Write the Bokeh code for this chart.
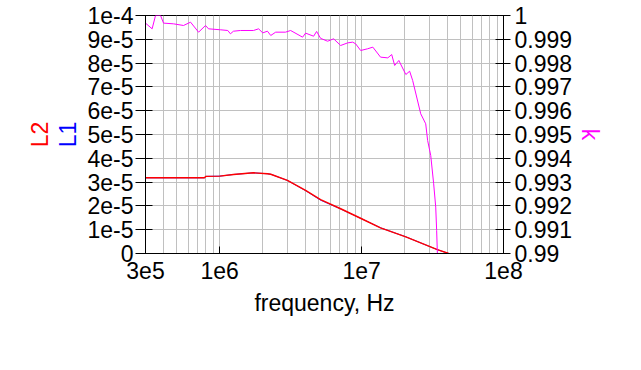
from bokeh.plotting import figure
from bokeh.models import (LinearAxis, Range1d, FixedTicker, CustomJSTickFormatter)
from bokeh.embed import file_html
from bokeh.resources import INLINE

# ---- data ----
freq_L = [3.0e5, 7.8e5, 8.0e5, 1.0e6, 1.25e6, 1.73e6, 2.17e6, 2.29e6, 3.0e6,
          4.03e6, 5.14e6, 7.12e6, 1.0e7, 1.36e7, 2.05e7, 3.42e7, 4.11e7]
L2 = [3.18e-5, 3.18e-5, 3.24e-5, 3.25e-5, 3.32e-5, 3.39e-5, 3.35e-5, 3.33e-5, 3.07e-5,
      2.65e-5, 2.26e-5, 1.88e-5, 1.46e-5, 1.08e-5, 0.70e-5, 0.16e-5, 0.0]
L1 = [3.18e-5, 3.18e-5, 3.24e-5, 3.25e-5, 3.32e-5, 3.39e-5, 3.35e-5, 3.33e-5, 3.07e-5,
      2.64e-5, 2.24e-5, 1.87e-5, 1.46e-5, 1.08e-5, 0.70e-5, 0.16e-5, 0.0]

freq_k = [3.0e5, 3.34e5, 3.53e5, 3.83e5, 4.02e5, 4.73e5, 5.56e5, 6.23e5, 7.10e5, 7.95e5,
          8.34e5, 1.01e6, 1.14e6, 1.19e6, 1.25e6, 1.40e6, 1.73e6, 1.88e6, 2.01e6, 2.17e6,
          2.29e6, 2.48e6, 2.91e6, 3.16e6, 3.84e6, 4.03e6, 4.59e6, 4.82e6, 5.14e6, 5.76e6,
          6.35e6, 7.12e6, 7.98e6, 8.65e6, 9.08e6, 9.85e6, 1.10e7, 1.20e7, 1.36e7, 1.53e7,
          1.63e7, 1.71e7, 1.83e7, 2.05e7, 2.18e7, 2.29e7, 2.61e7, 2.83e7, 2.92e7, 3.07e7,
          3.22e7, 3.33e7, 3.38e7, 3.42e7]
k = [0.99968, 0.99944, 1.0, 1.0, 0.99968, 0.99965, 0.99958, 0.99972, 0.99930, 0.99958,
     0.99944, 0.99940, 0.99937, 0.99923, 0.99934, 0.99937, 0.99937, 0.99944, 0.99927, 0.99934,
     0.99916, 0.99930, 0.99930, 0.99937, 0.99909, 0.99926, 0.99913, 0.99933, 0.99904, 0.99892,
     0.99902, 0.99874, 0.99885, 0.99888, 0.99881, 0.99853, 0.99860, 0.99867, 0.99825, 0.99822,
     0.99836, 0.99790, 0.99811, 0.99752, 0.99766, 0.99727, 0.99587, 0.99545, 0.99475, 0.99412,
     0.99293, 0.99195, 0.99097, 0.99]

x_ticks = [3e5, 1e6, 1e7, 1e8]
x_minor = [4e5, 5e5, 6e5, 7e5, 8e5, 9e5,
           2e6, 3e6, 4e6, 5e6, 6e6, 7e6, 8e6, 9e6,
           2e7, 3e7, 4e7, 5e7, 6e7, 7e7, 8e7, 9e7]
y_ticks = [0, 1e-5, 2e-5, 3e-5, 4e-5, 5e-5, 6e-5, 7e-5, 8e-5, 9e-5, 1e-4]
k_ticks = [0.99, 0.991, 0.992, 0.993, 0.994, 0.995, 0.996, 0.997, 0.998, 0.999, 1.0]

FONT = "Liberation Sans"
FS = "23px"

p = figure(x_axis_type="log", x_range=Range1d(3e5, 1e8), y_range=Range1d(0, 1e-4),
           frame_width=358, frame_height=238, output_backend="svg", toolbar_location=None,
           min_border_left=145, min_border_right=122, min_border_top=15, min_border_bottom=100)
p.extra_y_ranges = {"k": Range1d(0.99, 1.0)}
p.background_fill_color = "white"
p.border_fill_color = "white"
p.outline_line_color = "black"
p.outline_line_width = 1

sci = CustomJSTickFormatter(code="""
if (Math.abs(tick) < 1e-15) return "0";
const e = Math.floor(Math.log10(Math.abs(tick)) + 1e-9);
const m = Math.round(tick / Math.pow(10, e));
return m + "e" + e;
""")

# x axis
xa = p.xaxis[0]
xa.ticker = FixedTicker(ticks=x_ticks, minor_ticks=x_minor)
xa.formatter = sci
xa.axis_label = "frequency, Hz"
xa.axis_label_text_color = "black"
xa.major_tick_in = 7
xa.major_tick_out = 0
xa.minor_tick_line_color = None
xa.major_label_standoff = 4
xa.axis_label_standoff = 8

# left axis (L1)
ya = p.yaxis[0]
ya.ticker = FixedTicker(ticks=y_ticks)
ya.formatter = sci
ya.axis_label = "L1"
ya.axis_label_text_color = "blue"
ya.major_tick_in = 7
ya.major_tick_out = 10
ya.minor_tick_line_color = None
ya.major_label_standoff = 2
ya.axis_label_standoff = 3

# second left label axis (L2)
ya2 = LinearAxis(ticker=FixedTicker(ticks=[]), axis_label="L2",
                 axis_label_text_color="red", axis_line_color=None,
                 major_tick_line_color=None, minor_tick_line_color=None,
                 major_label_text_font_size="0px", axis_label_standoff=0)
p.add_layout(ya2, "left")

# right axis (k)
ka = LinearAxis(y_range_name="k", ticker=FixedTicker(ticks=k_ticks),
                formatter=CustomJSTickFormatter(code="return String(parseFloat(tick.toFixed(3)));"),
                axis_label="k", axis_label_text_color="magenta")
ka.major_tick_in = 8
ka.major_tick_out = 7
ka.minor_tick_line_color = None
ka.major_label_standoff = 4
ka.axis_label_standoff = 2
p.add_layout(ka, "right")

for ax in [xa, ya, ya2, ka]:
    ax.major_label_text_font = FONT
    ax.major_label_text_font_size = FS
    ax.major_label_text_color = "black"
    ax.axis_label_text_font = FONT
    ax.axis_label_text_font_size = FS
    ax.axis_label_text_font_style = "normal"
    ax.axis_line_color = "black" if ax is not ya2 else None
    ax.major_tick_line_color = "black" if ax is not ya2 else None
ya2.major_label_text_font_size = "0px"

# grid
p.xgrid.grid_line_color = "#c0c0c0"
p.xgrid.minor_grid_line_color = "#c0c0c0"
p.ygrid.grid_line_color = "#c0c0c0"
p.ygrid.ticker = FixedTicker(ticks=y_ticks)

# lines
p.line(freq_L, L1, line_color="blue", line_width=0.8)
p.line(freq_L, L2, line_color="red", line_width=1.4)
p.line(freq_k, k, line_color="magenta", line_width=1, y_range_name="k")

open("out.html", "w").write(file_html(p, INLINE))
